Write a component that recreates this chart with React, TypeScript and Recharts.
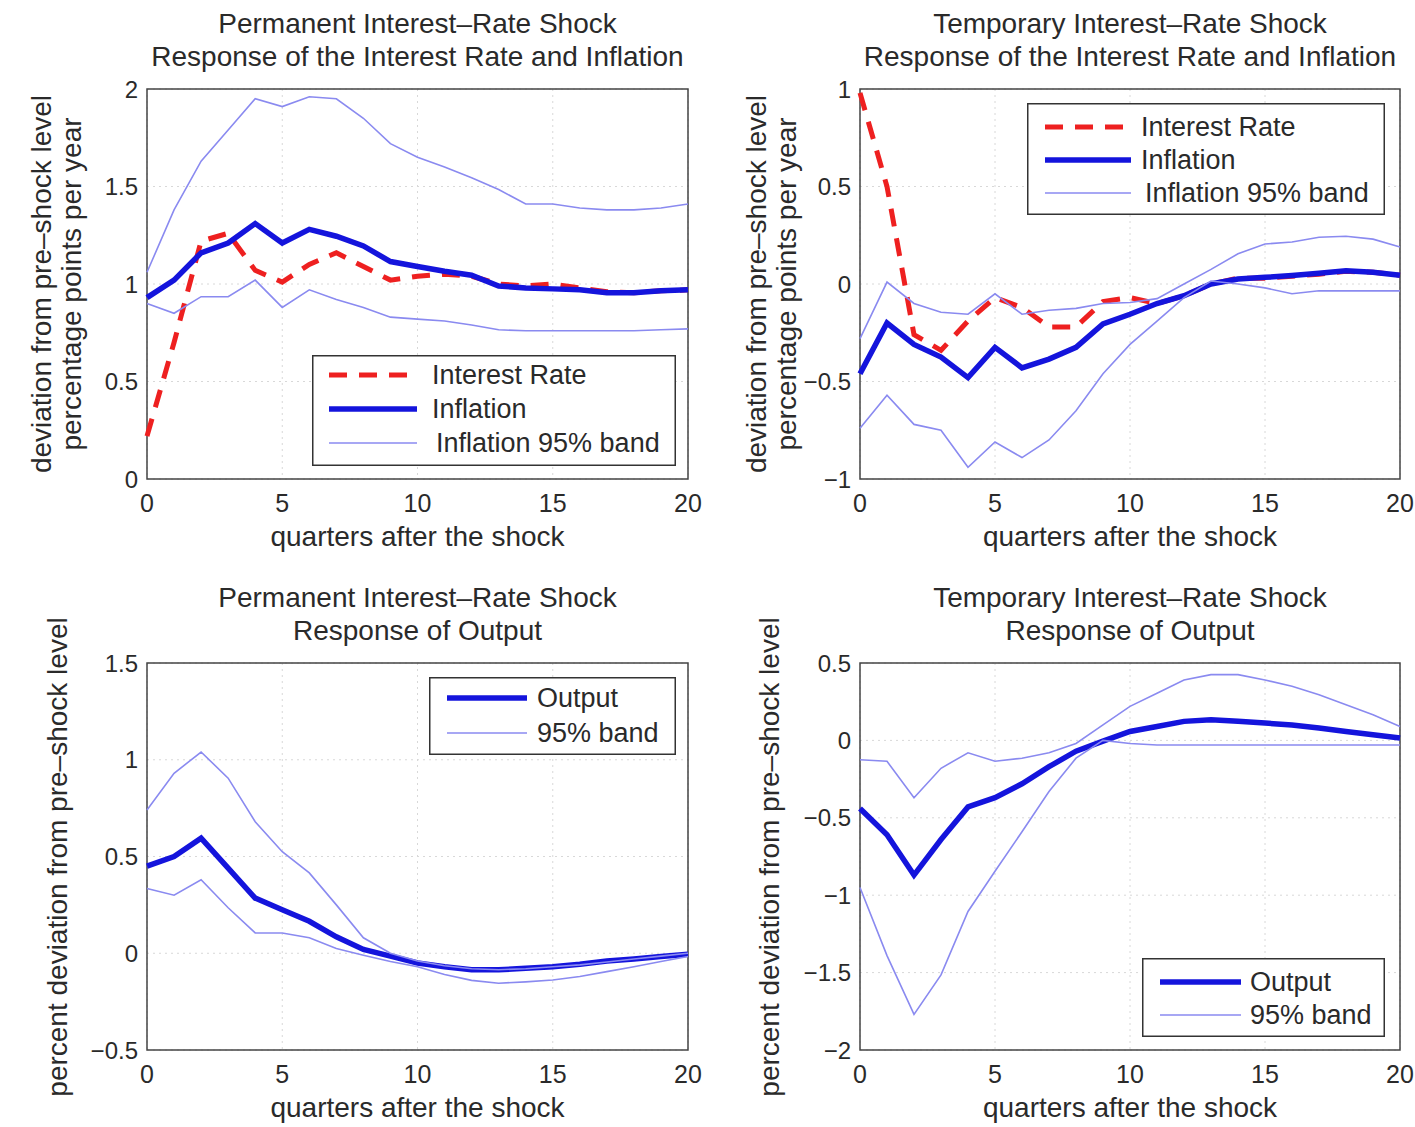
import React from 'react';
import { LineChart, Line, XAxis, YAxis, CartesianGrid, ReferenceArea, Legend } from 'recharts';

const quarters = [0, 1, 2, 3, 4, 5, 6, 7, 8, 9, 10, 11, 12, 13, 14, 15, 16, 17, 18, 19, 20];
const xTicks = [0, 5, 10, 15, 20];

// Panel 1: permanent shock, interest rate & inflation
const p1Interest = [0.22, 0.7, 1.22, 1.26, 1.07, 1.01, 1.1, 1.16, 1.09, 1.02, 1.04, 1.05, 1.04, 1.0, 0.99, 1.0, 0.98, 0.96, 0.955, 0.965, 0.97];
const p1Inflation = [0.93, 1.02, 1.16, 1.21, 1.31, 1.21, 1.28, 1.245, 1.195, 1.115, 1.09, 1.065, 1.045, 0.99, 0.98, 0.975, 0.97, 0.955, 0.955, 0.965, 0.97];
const p1Upper = [1.06, 1.38, 1.63, 1.79, 1.95, 1.91, 1.96, 1.95, 1.85, 1.72, 1.65, 1.6, 1.545, 1.485, 1.41, 1.41, 1.39, 1.38, 1.38, 1.39, 1.41];
const p1Lower = [0.9, 0.85, 0.935, 0.935, 1.02, 0.88, 0.97, 0.92, 0.88, 0.83, 0.82, 0.81, 0.79, 0.765, 0.76, 0.76, 0.76, 0.76, 0.76, 0.765, 0.77];
const p1Ticks = [0, 0.5, 1, 1.5, 2];

// Panel 2: temporary shock, interest rate & inflation
const p2Interest = [0.98, 0.5, -0.26, -0.34, -0.19, -0.07, -0.12, -0.22, -0.22, -0.09, -0.07, -0.1, -0.06, 0.0, 0.03, 0.03, 0.04, 0.05, 0.065, 0.06, 0.045];
const p2Inflation = [-0.46, -0.2, -0.31, -0.375, -0.48, -0.325, -0.43, -0.385, -0.325, -0.205, -0.155, -0.1, -0.06, 0.0, 0.026, 0.034, 0.043, 0.055, 0.068, 0.06, 0.045];
const p2Upper = [-0.28, 0.01, -0.1, -0.145, -0.155, -0.05, -0.155, -0.135, -0.125, -0.1, -0.095, -0.075, 0.0, 0.075, 0.155, 0.205, 0.215, 0.24, 0.245, 0.23, 0.19];
const p2Lower = [-0.74, -0.57, -0.72, -0.75, -0.94, -0.81, -0.89, -0.8, -0.65, -0.46, -0.31, -0.19, -0.07, 0.015, 0.0, -0.02, -0.05, -0.035, -0.035, -0.035, -0.035];
const p2Ticks = [-1, -0.5, 0, 0.5, 1];

// Panel 3: permanent shock, output
const p3Output = [0.45, 0.5, 0.595, 0.44, 0.285, 0.225, 0.165, 0.085, 0.02, -0.015, -0.05, -0.07, -0.085, -0.085, -0.078, -0.07, -0.057, -0.04, -0.03, -0.017, -0.005];
const p3Upper = [0.74, 0.93, 1.04, 0.905, 0.68, 0.525, 0.415, 0.25, 0.08, 0.0, -0.04, -0.065, -0.08, -0.085, -0.08, -0.07, -0.06, -0.045, -0.03, -0.015, 0.0];
const p3Lower = [0.335, 0.3, 0.38, 0.235, 0.105, 0.105, 0.08, 0.025, -0.01, -0.043, -0.07, -0.11, -0.14, -0.155, -0.148, -0.138, -0.12, -0.095, -0.07, -0.043, -0.017];
const p3Ticks = [-0.5, 0, 0.5, 1, 1.5];

// Panel 4: temporary shock, output
const p4Output = [-0.44, -0.61, -0.87, -0.64, -0.43, -0.37, -0.28, -0.17, -0.07, -0.005, 0.058, 0.09, 0.123, 0.134, 0.123, 0.112, 0.1, 0.08, 0.058, 0.037, 0.015];
const p4Upper = [-0.125, -0.135, -0.37, -0.18, -0.08, -0.135, -0.115, -0.08, -0.02, 0.1, 0.22, 0.305, 0.39, 0.425, 0.425, 0.39, 0.35, 0.295, 0.23, 0.165, 0.09];
const p4Lower = [-0.95, -1.39, -1.77, -1.515, -1.105, -0.845, -0.59, -0.33, -0.115, 0.0, -0.02, -0.03, -0.03, -0.03, -0.03, -0.03, -0.03, -0.03, -0.03, -0.03, -0.03];
const p4Ticks = [-2, -1.5, -1, -0.5, 0, 0.5];

const FONT = '"Liberation Sans", Arial, Helvetica, sans-serif';
const TEXT = '#2a2a2a';

const STYLES: Record<string, { stroke: string; strokeWidth: number; dash?: string }> = {
  rate: { stroke: '#ee2020', strokeWidth: 5, dash: '18 12' },
  main: { stroke: '#1414dc', strokeWidth: 5.5 },
  band: { stroke: '#8a8af0', strokeWidth: 1.6 },
};

type SeriesDef = { key: string; name: string; kind: string; values: number[]; inLegend: boolean };
type LegendDef = { x: number; y: number; w: number; h: number; row0: number; gap: number; s0: number; s1: number; tx: number; bandShift: number };
type PanelDef = {
  L: number; T: number; R: number; B: number;
  domain: [number, number]; ticks: number[];
  series: SeriesDef[];
  legend: LegendDef;
  titles: string[];
  ylabels: { text: string; cx: number }[];
};

const fmt = (v: number) => String(v).replace('-', '\u2212');

function Panel({ p }: { p: PanelDef }) {
  const padL = 90, padT = 15, padR = 15, padB = 60;
  const left = p.L - padL;
  const top = p.T - padT;
  const W = p.R - p.L + padL + padR;
  const H = p.B - p.T + padT + padB;
  const data = quarters.map((q, i) => {
    const row: Record<string, number> = { q };
    p.series.forEach((s) => { row[s.key] = s.values[i]; });
    return row;
  });
  const legItems = p.series.filter((s) => s.inLegend);
  const lg = p.legend;
  const renderLegend = () => (
    <svg width={lg.w} height={lg.h} style={{ display: 'block' }}>
      <rect x={0.75} y={0.75} width={lg.w - 1.5} height={lg.h - 1.5} fill="#fff" stroke="#333" strokeWidth={1.5} />
      {legItems.map((s, i) => {
        const st = STYLES[s.kind];
        const cy = lg.row0 + i * lg.gap;
        return (
          <g key={s.key}>
            <line x1={lg.s0} x2={lg.s1} y1={cy} y2={cy} stroke={st.stroke} strokeWidth={st.strokeWidth} strokeDasharray={st.dash} />
            <text x={lg.tx + (s.kind === 'band' ? lg.bandShift : 0)} y={cy} dy="0.35em" fontSize={27} fill={TEXT} fontFamily={FONT}>{s.name}</text>
          </g>
        );
      })}
    </svg>
  );
  const midX = (p.L + p.R) / 2;
  const midY = (p.T + p.B) / 2;
  return (
    <>
      {p.titles.map((t, i) => (
        <div key={'t' + i} style={{ position: 'absolute', left: midX - 300, width: 600, top: p.T - 82 + i * 33, height: 33, lineHeight: '33px', textAlign: 'center', fontSize: 28, fontFamily: FONT, color: TEXT, whiteSpace: 'nowrap' }}>{t}</div>
      ))}
      {p.ylabels.map((yl, i) => (
        <div key={'y' + i} style={{ position: 'absolute', left: yl.cx - 300, width: 600, top: midY - 16, height: 32, lineHeight: '32px', textAlign: 'center', fontSize: 28, fontFamily: FONT, color: TEXT, whiteSpace: 'nowrap', transform: 'rotate(-90deg)', transformOrigin: '50% 50%' }}>{yl.text}</div>
      ))}
      <div style={{ position: 'absolute', left: midX - 300, width: 600, top: p.B + 42, height: 32, lineHeight: '32px', textAlign: 'center', fontSize: 28, fontFamily: FONT, color: TEXT, whiteSpace: 'nowrap' }}>quarters after the shock</div>
      <div style={{ position: 'absolute', left, top, width: W, height: H }}>
        <LineChart width={W} height={H} data={data} margin={{ top: padT, right: padR, bottom: 0, left: 0 }}>
          <CartesianGrid stroke="#d8d8d8" strokeDasharray="2 4" horizontalValues={p.ticks} verticalValues={xTicks} />
          <XAxis dataKey="q" type="number" domain={[0, 20]} ticks={xTicks} height={padB} axisLine={false} tickLine={false} tickSize={0} tickMargin={15} tick={{ fontSize: 25, fill: TEXT, fontFamily: FONT }} />
          <YAxis type="number" domain={p.domain} ticks={p.ticks} width={padL} axisLine={false} tickLine={false} tickSize={0} tickMargin={9} tickFormatter={fmt} tick={{ fontSize: 24, fill: TEXT, fontFamily: FONT }} />
          {p.series.map((s) => {
            const st = STYLES[s.kind];
            return (
              <Line key={s.key} dataKey={s.key} name={s.name} type="linear" dot={false} activeDot={false}
                stroke={st.stroke} strokeWidth={st.strokeWidth} strokeDasharray={st.dash}
                legendType={s.inLegend ? 'line' : 'none'} isAnimationActive={false} />
            );
          })}
          <ReferenceArea x1={0} x2={20} y1={p.domain[0]} y2={p.domain[1]} fill="none" fillOpacity={0} stroke="#444" strokeWidth={1.5} />
          <Legend layout="vertical" align="center" verticalAlign="middle" content={renderLegend}
            wrapperStyle={{ left: lg.x - left, top: lg.y - top, width: lg.w, height: lg.h, margin: 0, padding: 0 }} />
        </LineChart>
      </div>
    </>
  );
}

const panels: PanelDef[] = [
  {
    L: 147, T: 89, R: 688, B: 479, domain: [0, 2], ticks: p1Ticks,
    series: [
      { key: 'rate', name: 'Interest Rate', kind: 'rate', values: p1Interest, inLegend: true },
      { key: 'infl', name: 'Inflation', kind: 'main', values: p1Inflation, inLegend: true },
      { key: 'up', name: 'Inflation 95% band', kind: 'band', values: p1Upper, inLegend: true },
      { key: 'lo', name: 'Inflation 95% band (lower)', kind: 'band', values: p1Lower, inLegend: false },
    ],
    legend: { x: 312, y: 355, w: 364, h: 111, row0: 20, gap: 34, s0: 17, s1: 105, tx: 120, bandShift: 4 },
    titles: ['Permanent Interest\u2013Rate Shock', 'Response of the Interest Rate and Inflation'],
    ylabels: [{ text: 'deviation from pre\u2013shock level', cx: 42 }, { text: 'percentage points per year', cx: 72 }],
  },
  {
    L: 860, T: 89, R: 1400, B: 479, domain: [-1, 1], ticks: p2Ticks,
    series: [
      { key: 'rate', name: 'Interest Rate', kind: 'rate', values: p2Interest, inLegend: true },
      { key: 'infl', name: 'Inflation', kind: 'main', values: p2Inflation, inLegend: true },
      { key: 'up', name: 'Inflation 95% band', kind: 'band', values: p2Upper, inLegend: true },
      { key: 'lo', name: 'Inflation 95% band (lower)', kind: 'band', values: p2Lower, inLegend: false },
    ],
    legend: { x: 1027, y: 103, w: 358, h: 112, row0: 24, gap: 33, s0: 18, s1: 104, tx: 114, bandShift: 4 },
    titles: ['Temporary Interest\u2013Rate Shock', 'Response of the Interest Rate and Inflation'],
    ylabels: [{ text: 'deviation from pre\u2013shock level', cx: 757 }, { text: 'percentage points per year', cx: 787 }],
  },
  {
    L: 147, T: 663, R: 688, B: 1050, domain: [-0.5, 1.5], ticks: p3Ticks,
    series: [
      { key: 'out', name: 'Output', kind: 'main', values: p3Output, inLegend: true },
      { key: 'up', name: '95% band', kind: 'band', values: p3Upper, inLegend: true },
      { key: 'lo', name: '95% band (lower)', kind: 'band', values: p3Lower, inLegend: false },
    ],
    legend: { x: 429, y: 677, w: 247, h: 78, row0: 21, gap: 35, s0: 18, s1: 98, tx: 108, bandShift: 0 },
    titles: ['Permanent Interest\u2013Rate Shock', 'Response of Output'],
    ylabels: [{ text: 'percent deviation from pre\u2013shock level', cx: 58 }],
  },
  {
    L: 860, T: 663, R: 1400, B: 1050, domain: [-2, 0.5], ticks: p4Ticks,
    series: [
      { key: 'out', name: 'Output', kind: 'main', values: p4Output, inLegend: true },
      { key: 'up', name: '95% band', kind: 'band', values: p4Upper, inLegend: true },
      { key: 'lo', name: '95% band (lower)', kind: 'band', values: p4Lower, inLegend: false },
    ],
    legend: { x: 1142, y: 958, w: 243, h: 79, row0: 24, gap: 33, s0: 18, s1: 99, tx: 108, bandShift: 0 },
    titles: ['Temporary Interest\u2013Rate Shock', 'Response of Output'],
    ylabels: [{ text: 'percent deviation from pre\u2013shock level', cx: 770 }],
  },
];

export default function App() {
  return (
    <div style={{ position: 'absolute', left: 0, top: 0, width: 1415, height: 1127, background: '#fff', overflow: 'hidden' }}>
      {panels.map((p, i) => <Panel key={i} p={p} />)}
    </div>
  );
}
